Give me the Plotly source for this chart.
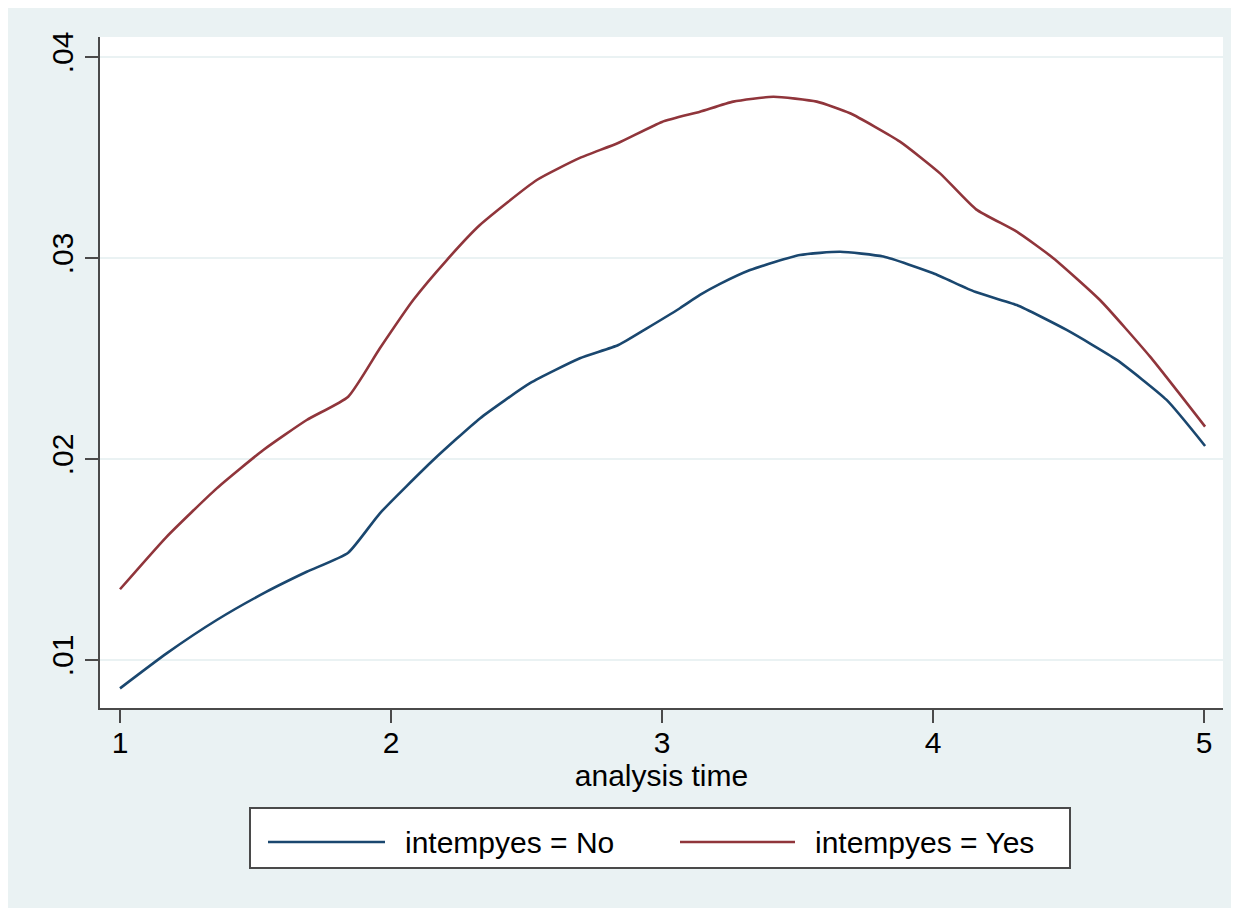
import plotly.graph_objects as go

# analysis time values
time_no = [1.000, 1.172, 1.357, 1.541, 1.689, 1.842, 1.959, 2.156, 2.328,
           2.513, 2.697, 2.839, 2.944, 3.066, 3.140, 3.214, 3.325, 3.509, 3.657,
           3.817, 4.001, 4.155, 4.309, 4.493, 4.678, 4.862, 5.004]
hazard_no = [0.00859, 0.01033, 0.01199, 0.01340, 0.01439, 0.01534, 0.01730,
             0.01995, 0.02202, 0.02377, 0.02501, 0.02567, 0.02650, 0.02750, 0.02816,
             0.02871, 0.02940, 0.03015, 0.03031, 0.03007, 0.02924, 0.02832, 0.02766,
             0.02642, 0.02493, 0.02294, 0.02065]

time_yes = [1.000, 1.172, 1.357, 1.529, 1.689, 1.842, 1.959, 2.082, 2.206, 2.328,
            2.538, 2.697, 2.838, 3.000, 3.140, 3.263, 3.411, 3.571, 3.694, 3.878,
            4.026, 4.159, 4.309, 4.444, 4.616, 4.801, 5.004]
hazard_yes = [0.01352, 0.01613, 0.01854, 0.02045, 0.02194, 0.02310, 0.02551, 0.02791,
              0.02990, 0.03164, 0.03388, 0.03498, 0.03572, 0.03677, 0.03728, 0.03778,
              0.03802, 0.03778, 0.03720, 0.03579, 0.03421, 0.03242, 0.03131, 0.02999,
              0.02791, 0.02509, 0.02161]

series_names = ["intempyes = No", "intempyes = Yes"]
series_colors = ["#1a476f", "#90353b"]
x_tick_vals = [1, 2, 3, 4, 5]
y_tick_vals = [0.01, 0.02, 0.03, 0.04]
y_tick_text = [".01", ".02", ".03", ".04"]
x_title = "analysis time"

BG = "#EAF2F3"
AX = "#4a4a4a"
FONT = "Liberation Sans, Arial, Helvetica, sans-serif"
FS = 30

# figure sits inside the page body's 8px margin
W, H = 1231, 900
L, R, T, B = 92, 16, 29, 200
pw, ph = W - L - R, H - T - B


def px(xp):
    return (xp - L) / pw


def py(yp):
    return (H - B - yp) / ph


fig = go.Figure()
fig.add_trace(go.Scatter(x=time_no, y=hazard_no, mode="lines", name=series_names[0],
                         line=dict(color=series_colors[0], width=2.6, shape="spline", smoothing=0.5)))
fig.add_trace(go.Scatter(x=time_yes, y=hazard_yes, mode="lines", name=series_names[1],
                         line=dict(color=series_colors[1], width=2.6, shape="spline", smoothing=0.5)))

# legend box drawn by hand so the long key lines match
leg_y = 834
shapes = [
    dict(type="rect", xref="paper", yref="paper", x0=px(242), x1=px(1062), y0=py(860), y1=py(800),
         fillcolor="white", line=dict(color=AX, width=2)),
    dict(type="line", xref="paper", yref="paper", x0=px(260), x1=px(377), y0=py(leg_y), y1=py(leg_y),
         line=dict(color=series_colors[0], width=2.6)),
    dict(type="line", xref="paper", yref="paper", x0=px(672), x1=px(787), y0=py(leg_y), y1=py(leg_y),
         line=dict(color=series_colors[1], width=2.6)),
]
annotations = [
    dict(text=series_names[0], xref="paper", yref="paper", x=px(395), y=py(leg_y), xanchor="left",
         yanchor="middle", showarrow=False, font=dict(size=FS, family=FONT, color="black")),
    dict(text=series_names[1], xref="paper", yref="paper", x=px(805), y=py(leg_y), xanchor="left",
         yanchor="middle", showarrow=False, font=dict(size=FS, family=FONT, color="black")),
]

fig.update_layout(
    width=W, height=H,
    margin=dict(l=L, r=R, t=T, b=B, autoexpand=False),
    paper_bgcolor=BG, plot_bgcolor="white",
    font=dict(family=FONT, size=FS, color="black"),
    showlegend=False,
    shapes=shapes,
    annotations=annotations,
)
fig.update_xaxes(range=[0.9262, 5.0701], tickvals=x_tick_vals, ticks="outside", ticklen=13,
                 tickwidth=2, tickcolor=AX, showline=True, linecolor=AX, linewidth=2,
                 showgrid=False, zeroline=False, ticklabelstandoff=-6,
                 title=dict(text=x_title, standoff=2, font=dict(size=FS)),
                 tickfont=dict(size=FS))
fig.update_yaxes(range=[0.007612, 0.040995], tickvals=y_tick_vals, ticktext=y_tick_text,
                 tickangle=-90, ticks="outside", ticklen=13, tickwidth=2, tickcolor=AX,
                 showline=True, linecolor=AX, linewidth=2, showgrid=True, gridcolor=BG,
                 gridwidth=2, zeroline=False, tickfont=dict(size=FS))

fig.write_html("out.html")
